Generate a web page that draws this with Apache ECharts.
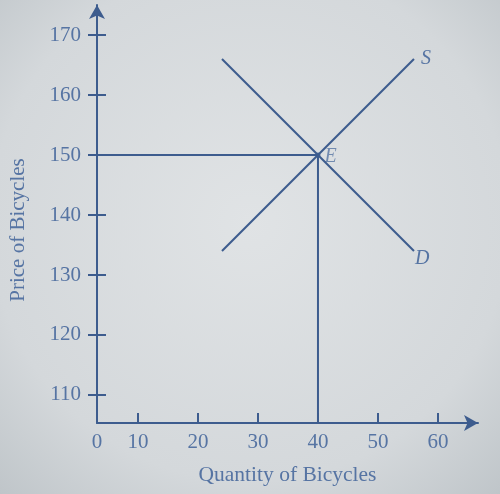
<!DOCTYPE html>
<html>
<head>
<meta charset="utf-8">
<script src="https://cdn.jsdelivr.net/npm/echarts@6/dist/echarts.min.js"></script>
<style>html,body{margin:0;padding:0;}#c{width:500px;height:494px;}</style>
</head>
<body>
<div id="c"></div>
<script>
// Data
var xTickValues = [10, 20, 30, 40, 50, 60];
var yTickValues = [110, 120, 130, 140, 150, 160, 170];
var supplyQ = [24, 56];
var supplyP = [134, 166];
var demandQ = [24, 56];
var demandP = [166, 134];
var eqQ = 40;
var eqP = 150;
var xAxisTitle = 'Quantity of Bicycles';
var yAxisTitle = 'Price of Bicycles';

var xMin = 3.17, xMax = 66.67;
var yMin = 105.33, yMax = 175;

var lineColor = '#3d5c8e';
var textColor = '#5674a3';
var font = '"Liberation Serif", "DejaVu Serif", serif';

function pairs(qs, ps) { return qs.map(function (q, i) { return [q, ps[i]]; }); }

var chart = echarts.init(document.getElementById('c'));
var labelStyle = { color: textColor, fontFamily: font, fontSize: 20, fontStyle: 'italic' };

chart.setOption({
  backgroundColor: new echarts.graphic.RadialGradient(0.5, 0.45, 0.75, [
    { offset: 0, color: '#e0e3e5' },
    { offset: 0.7, color: '#d4d8db' },
    { offset: 1, color: '#bfc5c9' }
  ]),
  animation: false,
  grid: { left: 97, top: 5, width: 381, height: 418, containLabel: false, outerBoundsMode: 'none' },
  xAxis: {
    type: 'value', min: xMin, max: xMax,
    name: xAxisTitle, nameLocation: 'middle', nameGap: 41,
    nameTextStyle: { color: textColor, fontFamily: font, fontSize: 21.5 },
    axisLine: { show: true, lineStyle: { color: lineColor, width: 2 }, symbol: ['none', 'arrow'], symbolSize: [12, 14] },
    axisTick: { show: true, inside: true, length: 10, lineStyle: { color: lineColor, width: 2 }, customValues: xTickValues },
    axisLabel: {
      color: textColor, fontFamily: font, fontSize: 21, margin: 9,
      customValues: [xMin].concat(xTickValues),
      formatter: function (v) { return v < 5 ? '0' : String(Math.round(v)); }
    },
    splitLine: { show: false }
  },
  yAxis: [{
    type: 'value', min: yMin, max: yMax,
    name: yAxisTitle, nameLocation: 'middle', nameGap: 68,
    nameTextStyle: { color: textColor, fontFamily: font, fontSize: 21, padding: [0, 32, 0, 0] },
    axisLine: { show: true, lineStyle: { color: lineColor, width: 2 }, symbol: ['none', 'arrow'], symbolSize: [12, 14] },
    axisTick: { show: true, inside: false, length: 9, lineStyle: { color: lineColor, width: 2 }, customValues: yTickValues },
    axisLabel: { color: textColor, fontFamily: font, fontSize: 21, margin: 16, customValues: yTickValues },
    splitLine: { show: false }
  }, {
    type: 'value', min: yMin, max: yMax, position: 'left',
    axisLine: { show: false },
    axisTick: { show: true, inside: true, length: 9, lineStyle: { color: lineColor, width: 2 }, customValues: yTickValues },
    axisLabel: { show: false },
    splitLine: { show: false }
  }],
  series: [
    {
      type: 'line', data: [[xMin, eqP], [eqQ, eqP]], symbol: 'none',
      lineStyle: { color: lineColor, width: 2 }, silent: true
    },
    {
      type: 'line', data: [[eqQ, yMin], [eqQ, eqP]], symbol: 'none',
      lineStyle: { color: lineColor, width: 2 }, silent: true
    },
    {
      type: 'line', data: pairs(supplyQ, supplyP).map(function (d, i) {
        return i === supplyQ.length - 1 ? { value: d, label: { show: true, formatter: 'S', position: [7, -10] } } : { value: d };
      }),
      symbol: 'circle', symbolSize: 0, showSymbol: true,
      label: Object.assign({ show: false }, labelStyle),
      lineStyle: { color: lineColor, width: 2 }, silent: true
    },
    {
      type: 'line', data: pairs(demandQ, demandP).map(function (d, i) {
        return i === demandQ.length - 1 ? { value: d, label: { show: true, formatter: 'D', position: [1, -2] } } : { value: d };
      }),
      symbol: 'circle', symbolSize: 0, showSymbol: true,
      label: Object.assign({ show: false }, labelStyle),
      lineStyle: { color: lineColor, width: 2 }, silent: true
    },
    {
      type: 'scatter', data: [[eqQ, eqP]], symbolSize: 5,
      itemStyle: { color: lineColor },
      label: Object.assign({ show: true, formatter: 'E', position: [9, -6] }, labelStyle),
      silent: true
    }
  ]
});
</script>
</body>
</html>
